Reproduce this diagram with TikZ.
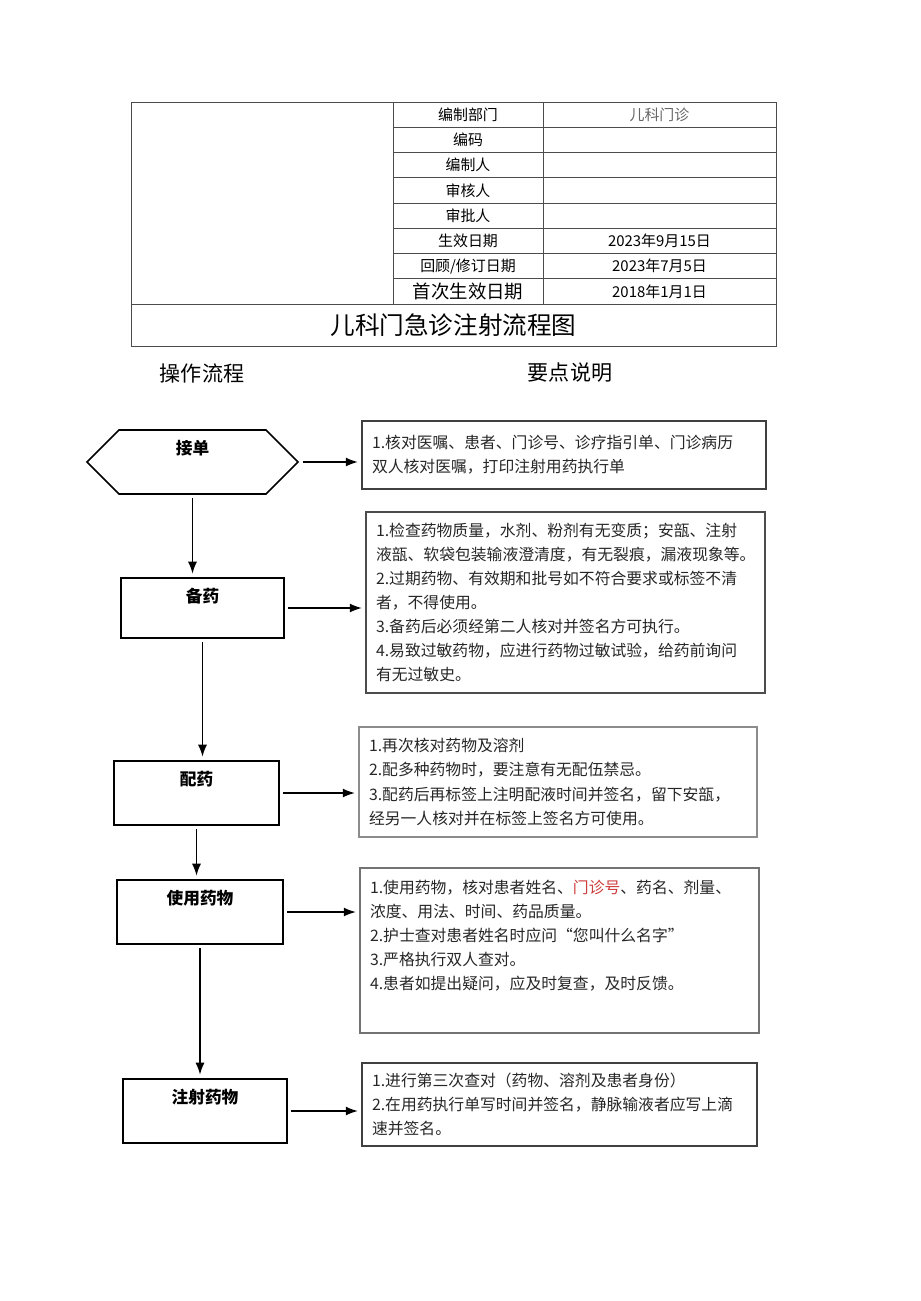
\documentclass[tikz,border=0pt]{standalone}
\usepackage{fontspec}
\setmainfont{Noto Sans CJK SC}
\usepackage{tikz}
\usetikzlibrary{arrows.meta,positioning,shapes.symbols}
\definecolor{mred}{RGB}{205,60,60}
\tikzset{
    cell/.style={rectangle, draw=black!70, line width=0.5pt, inner sep=0pt, outer sep=0pt, minimum width=3cm, minimum height=0.505cm, font=\fontsize{8.5}{10}\selectfont},
    head/.style={font=\fontsize{12}{14}\selectfont},
    stepbox/.style={rectangle, draw=black, line width=0.9pt, minimum width=3.3cm, minimum height=1.28cm},
    steplabel/.style={anchor=center, yshift=-0.37cm, font=\fontsize{9.5}{11}\selectfont\bfseries},
    notebox/.style={rectangle, draw=black!75, line width=0.8pt, inner xsep=0.2cm, inner ysep=0pt, align=left, text=black!85, font=\fontsize{9}{13.7}\selectfont},
    pil/.style={-{Latex[length=2.4mm,width=1.8mm]}, line width=0.8pt, shorten <=2pt, shorten >=2pt}
}
\begin{document}
\begin{tikzpicture}[x=0.02cm, y=-0.02cm]
    \useasboundingbox (0,0) rectangle (920,1301);

    \node[cell, minimum width=5.24cm, minimum height=4.04cm] (blank) at (262,203) {};
    \node[cell] (lab1) at (468,114.6) {编制部门};
    \node[cell, below=0pt of lab1] (lab2) {编码};
    \node[cell, below=0pt of lab2] (lab3) {编制人};
    \node[cell, below=0pt of lab3] (lab4) {审核人};
    \node[cell, below=0pt of lab4] (lab5) {审批人};
    \node[cell, below=0pt of lab5] (lab6) {生效日期};
    \node[cell, below=0pt of lab6] (lab7) {回顾/修订日期};
    \node[cell, below=0pt of lab7, font=\fontsize{10.5}{12}\selectfont] (lab8) {首次生效日期};
    \node[cell, minimum width=4.66cm, right=0pt of lab1, text=black!60] (val1) {儿科门诊};
    \node[cell, minimum width=4.66cm, right=0pt of lab2] (val2) {};
    \node[cell, minimum width=4.66cm, right=0pt of lab3] (val3) {};
    \node[cell, minimum width=4.66cm, right=0pt of lab4] (val4) {};
    \node[cell, minimum width=4.66cm, right=0pt of lab5] (val5) {};
    \node[cell, minimum width=4.66cm, right=0pt of lab6] (val6) {2023年9月15日};
    \node[cell, minimum width=4.66cm, right=0pt of lab7] (val7) {2023年7月5日};
    \node[cell, minimum width=4.66cm, right=0pt of lab8] (val8) {2018年1月1日};
    \node[cell, minimum width=12.9cm, minimum height=0.84cm, font=\fontsize{14}{16}\selectfont] (title) at (453.5,325) {儿科门急诊注射流程图};

    \node[head] (hflow) at (202,373) {操作流程};
    \node[head] (hnote) at (570,373) {要点说明};

    \node[stepbox, signal, signal to=west and east, signal pointer angle=90, minimum width=4.22cm, label={[steplabel]north:接单}] (jiedan) at (192.5,462) {};
    \node[stepbox, minimum width=3.26cm, minimum height=1.2cm, label={[steplabel]north:备药}] (beiyao) at (202.5,608) {};
    \node[stepbox, label={[steplabel]north:配药}] (peiyao) at (196.5,793) {};
    \node[stepbox, minimum width=3.32cm, label={[steplabel]north:使用药物}] (shiyong) at (200,912) {};
    \node[stepbox, minimum width=3.28cm, label={[steplabel]north:注射药物}] (zhushe) at (205,1111) {};

    \node[notebox, text width=7.68cm, minimum height=1.36cm] (note1) at (564,455)
      {1.核对医嘱、患者、门诊号、诊疗指引单、门诊病历\\
      双人核对医嘱，打印注射用药执行单};
    \node[notebox, draw=black!70, text width=7.58cm, minimum height=3.62cm] (note2) at (565.5,602.5)
      {1.检查药物质量，水剂、粉剂有无变质；安瓿、注射\\
      液瓿、软袋包装输液澄清度，有无裂痕，漏液现象等。\\
      2.过期药物、有效期和批号如不符合要求或标签不清\\
      者，不得使用。\\
      3.备药后必须经第二人核对并签名方可执行。\\
      4.易致过敏药物，应进行药物过敏试验，给药前询问\\
      有无过敏史。};
    \node[notebox, draw=black!45, text width=7.56cm, minimum height=2.2cm] (note3) at (558,782)
      {1.再次核对药物及溶剂\\
      2.配多种药物时，要注意有无配伍禁忌。\\
      3.配药后再标签上注明配液时间并签名，留下安瓿，\\
      经另一人核对并在标签上签名方可使用。};
    \node[notebox, draw=black!55, text width=7.58cm, minimum height=3.3cm] (note4) at (559.5,950.5)
      {1.使用药物，核对患者姓名、\textcolor{mred}{门诊号}、药名、剂量、\\
      浓度、用法、时间、药品质量。\\
      2.护士查对患者姓名时应问“您叫什么名字”\\
      3.严格执行双人查对。\\
      4.患者如提出疑问，应及时复查，及时反馈。\\[4.5pt]
      \mbox{}};
    \node[notebox, text width=7.5cm, minimum height=1.66cm] (note5) at (559.5,1104.5)
      {1.进行第三次查对（药物、溶剂及患者身份）\\
      2.在用药执行单写时间并签名，静脉输液者应写上滴\\
      速并签名。};

    \draw[pil] (jiedan.east) -- (jiedan.east -| note1.west);
    \draw[pil] (beiyao.east) -- (beiyao.east -| note2.west);
    \draw[pil] (peiyao.east) -- (peiyao.east -| note3.west);
    \draw[pil] (shiyong.east) -- (shiyong.east -| note4.west);
    \draw[pil] (zhushe.east) -- (zhushe.east -| note5.west);

    \draw[pil] (jiedan.south) -- (jiedan.south |- beiyao.north);
    \draw[pil] (beiyao.south) -- (beiyao.south |- peiyao.north);
    \draw[pil] (peiyao.south) -- (peiyao.south |- shiyong.north);
    \draw[pil] (shiyong.south) -- (shiyong.south |- zhushe.north);
\end{tikzpicture}
\end{document}
